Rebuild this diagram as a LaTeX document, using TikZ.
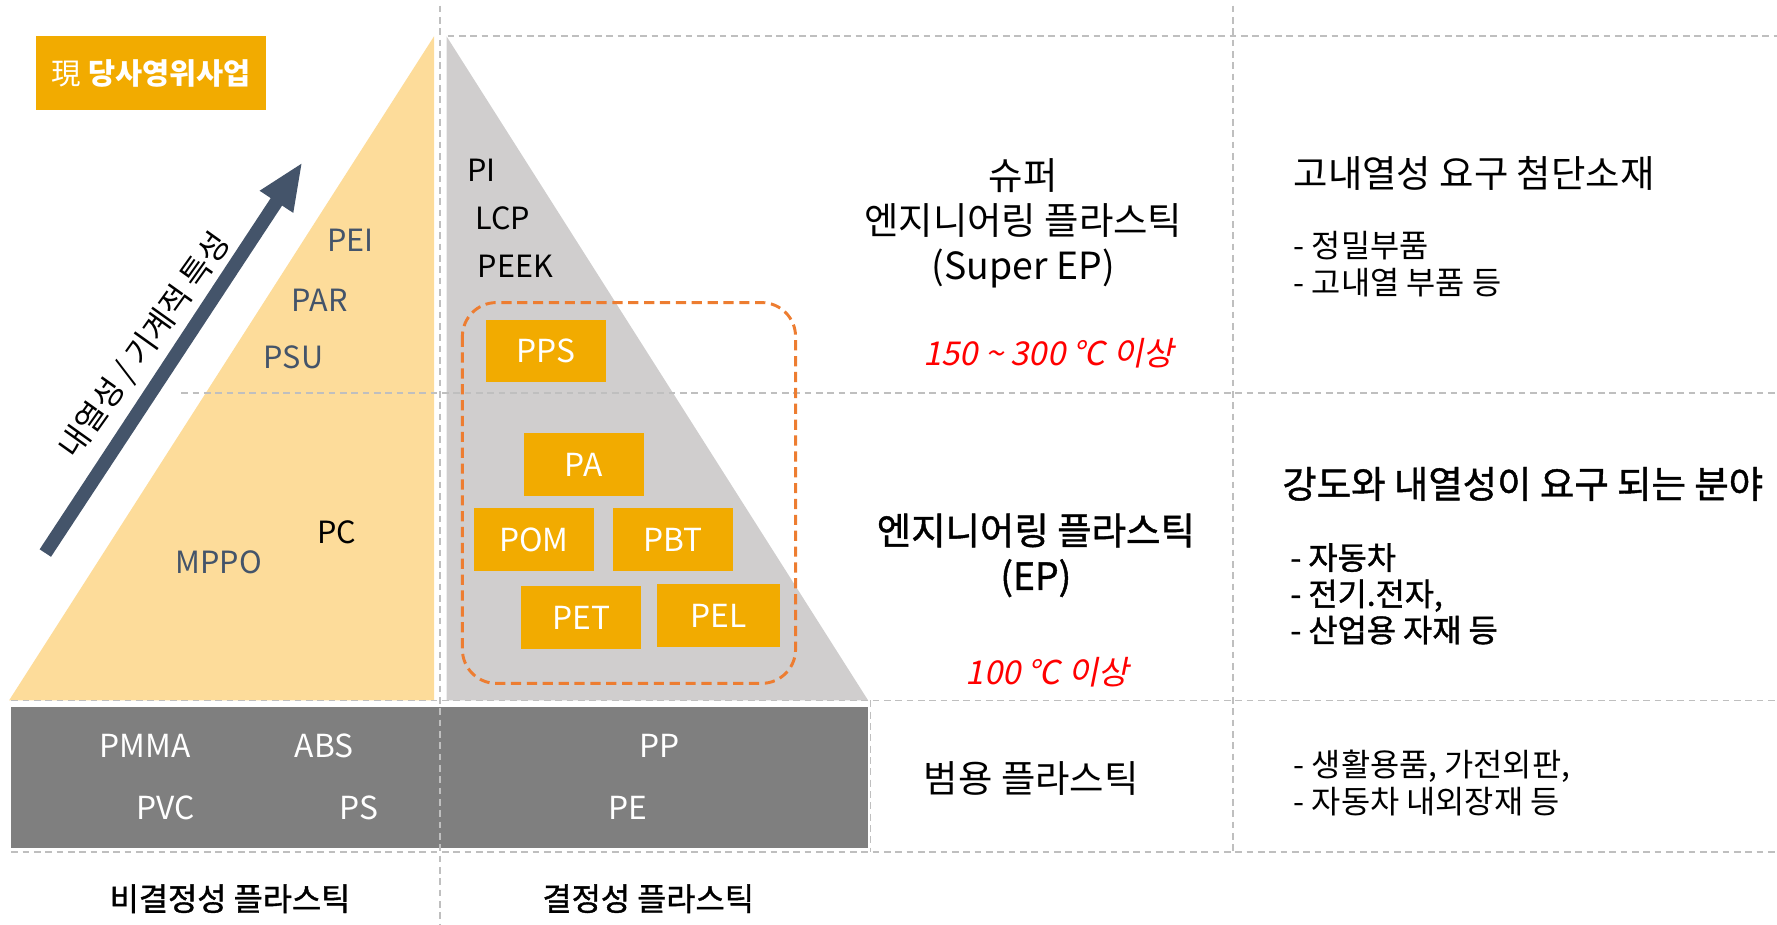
\documentclass[tikz,border=0pt]{standalone}
\usepackage{fontspec}
\setmainfont{Noto Sans CJK KR}
\newfontfamily\slantfont[FakeSlant=0.2]{Noto Sans CJK KR}
\newfontfamily\medfont[FakeBold=1.2]{Noto Sans CJK KR}
\usetikzlibrary{arrows.meta}

\definecolor{resinorange}{HTML}{F2AB00}
\definecolor{amorphyellow}{HTML}{FDDC9A}
\definecolor{crystgray}{HTML}{D0CECE}
\definecolor{commoditygray}{HTML}{7F7F7F}
\definecolor{gridgray}{HTML}{BFBFBF}
\definecolor{groupline}{HTML}{ED7D31}
\definecolor{slate}{HTML}{44546A}
\definecolor{hotred}{HTML}{FF0000}

\newcommand{\sz}[2]{\fontsize{#1}{#2}\selectfont}

\tikzset{
  gridline/.style={draw=gridgray, line width=1.4pt, dash pattern=on 6pt off 4pt},
  resin/.style={fill=resinorange, text=white, minimum width=106pt, minimum height=55pt, inner sep=0pt, font=\sz{28}{30}},
  amorph/.style={text=slate, font=\sz{27}{30}},
  cryst/.style={text=black, font=\sz{27}{30}},
  commodity/.style={text=white, font=\sz{28}{30}},
  rowname/.style={font=\sz{33}{40}, align=center},
  tempnote/.style={text=hotred, font=\slantfont\sz{29}{32}},
  uselist/.style={anchor=west, align=left, font=\sz{28}{33}},
}

\begin{document}
\begin{tikzpicture}[x=1pt,y=-1pt]
\useasboundingbox (0,0) rectangle (1568,816);

% pyramids and the commodity band
\fill[amorphyellow] (8,618) -- (383,32) -- (383,618) -- cycle;
\fill[crystgray] (394,32) -- (766,618) -- (394,618) -- cycle;
\fill[commoditygray] (10,624) rectangle (766,748);

% table lines
\draw[gridline] (395,32) -- (1568,32);
\draw[gridline] (160,347) -- (1568,347);
\draw[gridline] (10,618) -- (1568,618);
\draw[gridline] (10,752) -- (1568,752);
\draw[gridline] (388,5) -- (388,816);
\draw[gridline] (768,618) -- (768,752);
\draw[gridline] (1088,5) -- (1088,752);

\node[fill=resinorange, text=white, minimum width=203pt, minimum height=65pt, inner sep=0pt] (title) at (133.5,64.5) {\sz{26}{28}現 \textbf{당사영위사업}};

% heat resistance arrow
\coordinate (heattail) at (40,488);
\coordinate (heattip) at (267,143);
\draw[slate, line width=12pt, -{Triangle[length=42pt,width=32pt]}] (heattail) -- (heattip);
\node[rotate=54.5, font=\sz{28}{30}] (heat) at (128,305) {내열성 / 기계적 특성};

% amorphous
\node[amorph] (pei) at (309,212) {PEI};
\node[amorph] (par) at (282,265) {PAR};
\node[amorph] (psu) at (259,315) {PSU};
\node[amorph] (mppo) at (193,496) {MPPO};
\node[cryst] (pc) at (297,470) {PC};

% crystalline
\node[cryst, anchor=west] (pi) at (409,150) {PI};
\node[cryst, anchor=west] (lcp) at (416,193) {LCP};
\node[cryst, anchor=west] (peek) at (418,235) {PEEK};

\draw[groupline, line width=2.6pt, dash pattern=on 9pt off 5pt, rounded corners=30pt] (408,267) rectangle (702,603);
\node[resin] (pps) at (482,310) {PPS};
\node[resin] (pa) at (515,410) {PA};
\node[resin] (pom) at (471,476) {POM};
\node[resin] (pbt) at (594,476) {PBT};
\node[resin] (pet) at (513,545) {PET};
\node[resin, minimum width=108pt] (pel) at (634,543) {PEL};

% commodity
\node[commodity] (pmma) at (128,658) {PMMA};
\node[commodity] (abs) at (286,658) {ABS};
\node[commodity] (pvc) at (146,713) {PVC};
\node[commodity] (ps) at (317,713) {PS};
\node[commodity] (pp) at (582,658) {PP};
\node[commodity] (pe) at (554,713) {PE};

\node[font=\medfont\sz{28}{30}] (amorphname) at (203,793) {비결정성 플라스틱};
\node[font=\medfont\sz{28}{30}] (crystname) at (572,793) {결정성 플라스틱};

% grades
\node[rowname] (superep) at (903,197) {슈퍼\\엔지니어링 플라스틱\\(Super EP)};
\node[tempnote] (supertemp) at (925,312) {150 \textasciitilde{} 300 ℃ 이상};
\node[rowname, font=\medfont\sz{33}{40}] (ep) at (914,490) {엔지니어링 플라스틱\\(EP)};
\node[tempnote] (eptemp) at (924,593) {100 ℃ 이상};
\node[rowname] (general) at (910,687) {범용 플라스틱};

% applications
\node[anchor=west, font=\sz{33}{36}] (superuse) at (1138,153) {고내열성 요구 첨단소재};
\node[uselist] (superlist) at (1138,233) {- 정밀부품\\- 고내열 부품 등};
\node[anchor=west, font=\medfont\sz{33}{36}] (epuse) at (1128,427) {강도와 내열성이 요구 되는 분야};
\node[uselist, font=\medfont\sz{28}{32}] (eplist) at (1135,524) {- 자동차\\- 전기.전자,\\- 산업용 자재 등};
\node[uselist] (generallist) at (1138,691) {- 생활용품, 가전외판,\\- 자동차 내외장재 등};
\end{tikzpicture}
\end{document}
